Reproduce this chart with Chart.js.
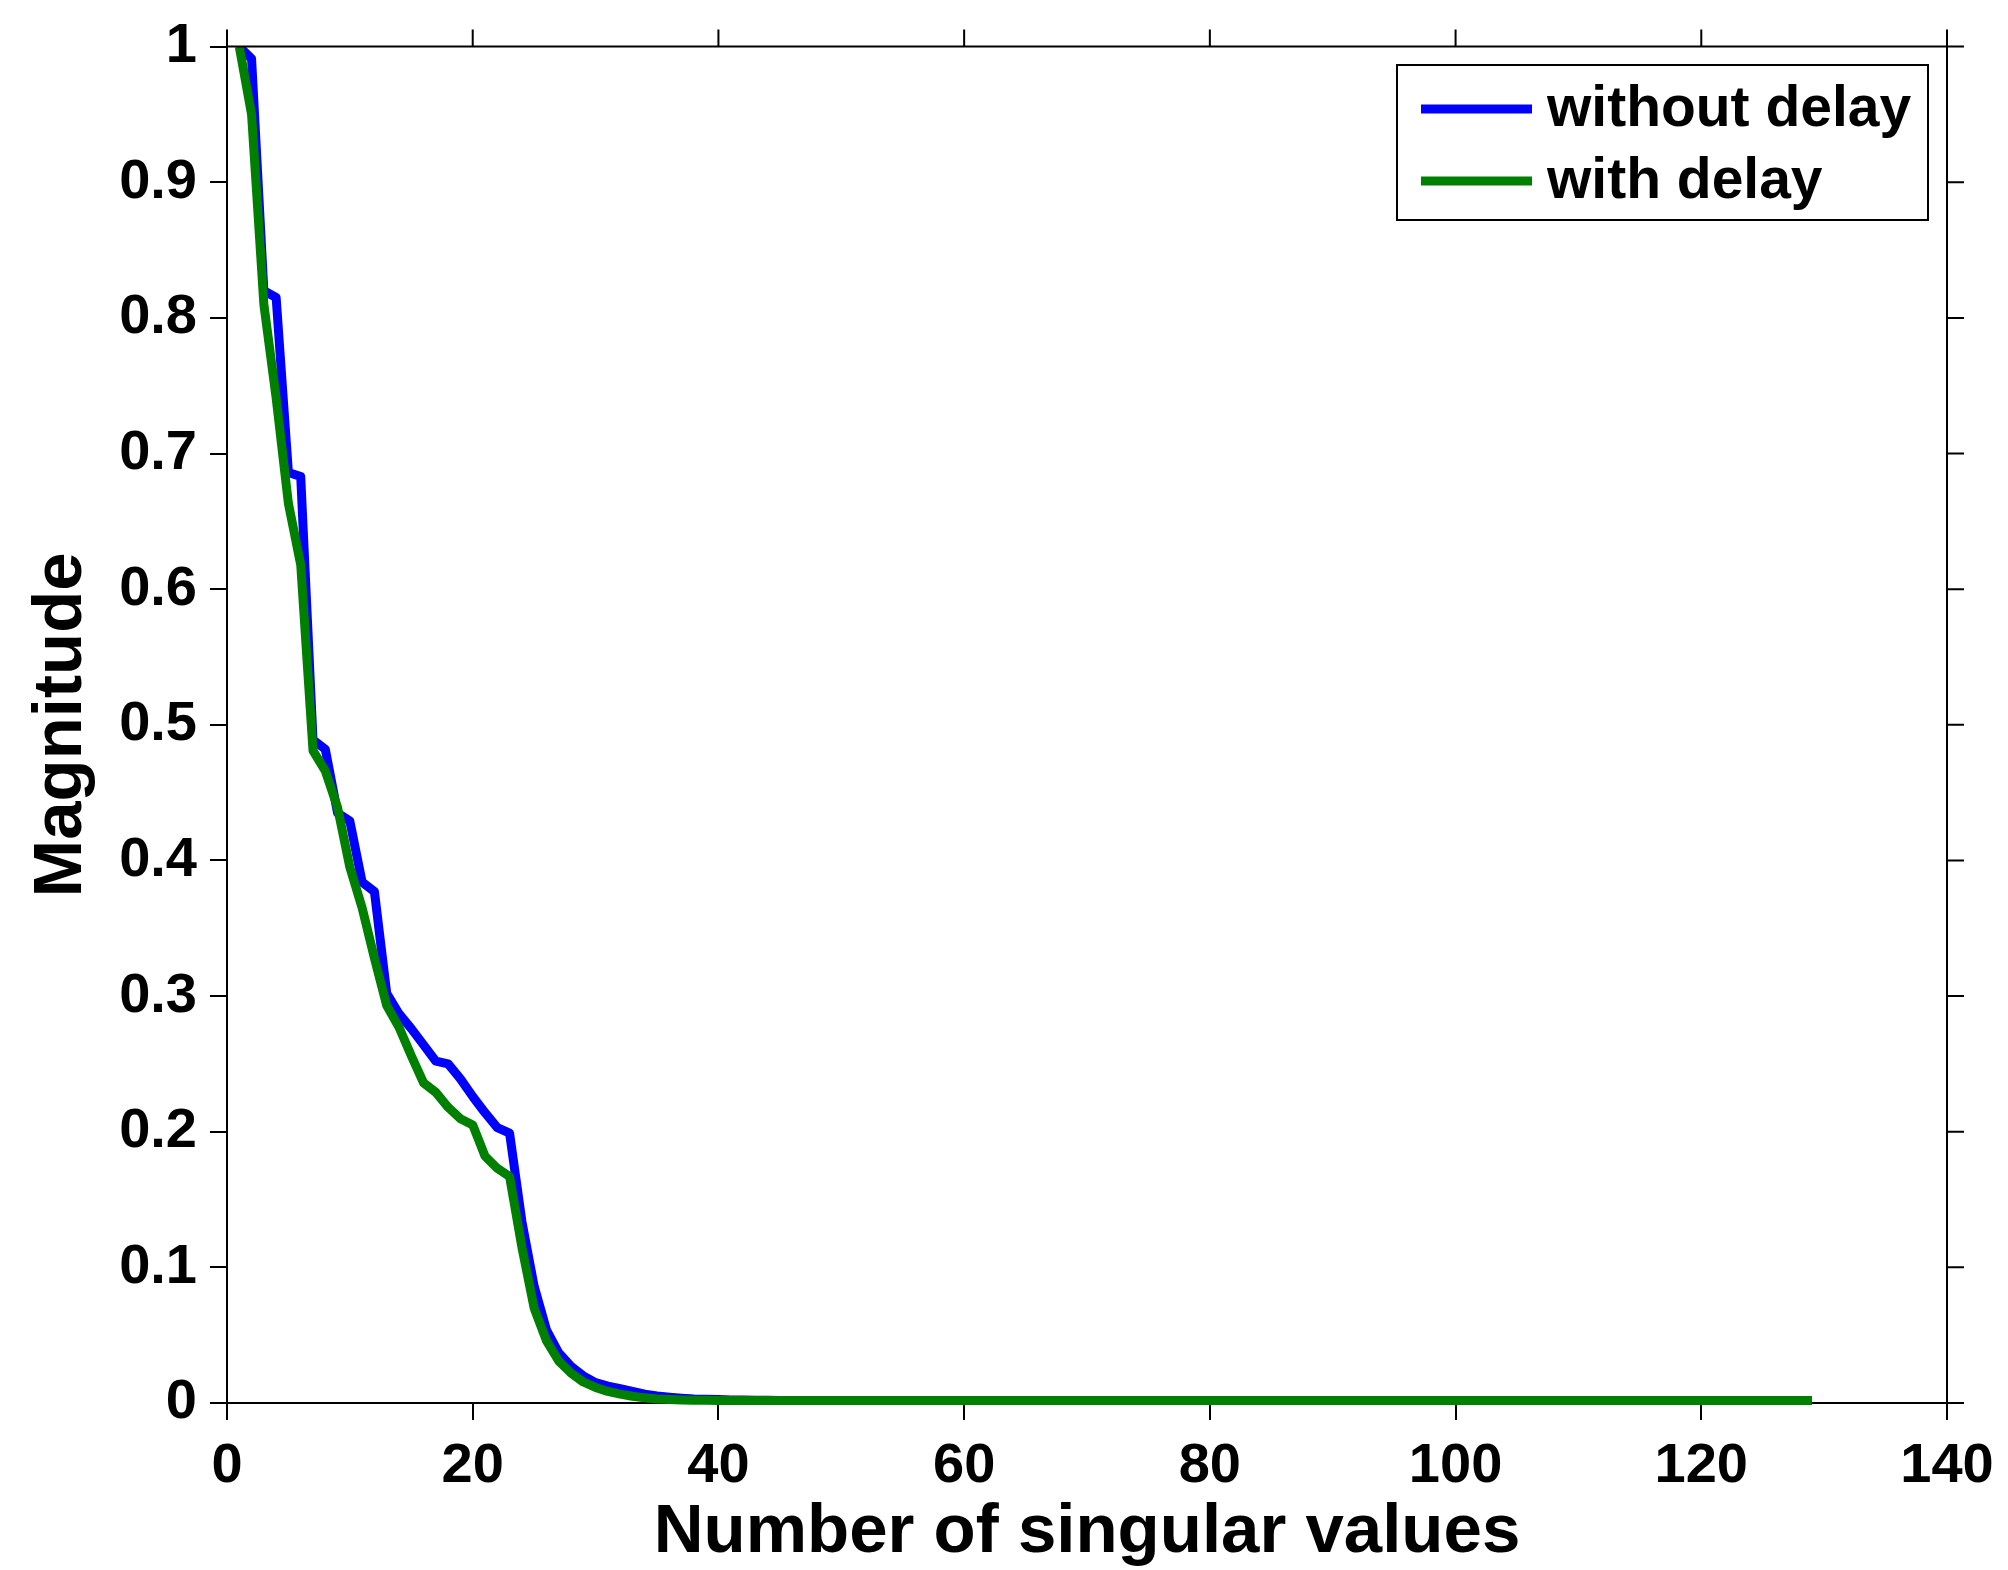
<!DOCTYPE html>
<html>
<head>
<meta charset="utf-8">
<title>Magnitude of singular values</title>
<script src="https://cdn.jsdelivr.net/npm/chart.js"></script>
<style>
  html, body { margin: 0; padding: 0; background: #fff; }
  #svdChart { display: block; }
</style>
</head>
<body>
<canvas id="svdChart" width="2008" height="1570"></canvas>
<script>
'use strict';

// normalised singular values, index 1..129
var withoutDelay = [
  1.0, 0.991, 0.820, 0.815, 0.686, 0.683, 0.489, 0.482, 0.435, 0.429,
  0.384, 0.377, 0.302, 0.287, 0.276, 0.264, 0.252, 0.250, 0.239, 0.226,
  0.214, 0.203, 0.199, 0.134, 0.086, 0.054, 0.037, 0.027, 0.020, 0.015,
  0.0125, 0.0105, 0.0085, 0.0065, 0.0052, 0.0043, 0.0036, 0.0030, 0.0027, 0.0025,
  0.0023, 0.0022, 0.0021, 0.0020, 0.0019,
  0.0018, 0.0018, 0.0018, 0.0018, 0.0018, 0.0018, 0.0018, 0.0018, 0.0018, 0.0018, 0.0018, 0.0018,
  0.0018, 0.0018, 0.0018, 0.0018, 0.0018, 0.0018, 0.0018, 0.0018, 0.0018, 0.0018, 0.0018, 0.0018,
  0.0018, 0.0018, 0.0018, 0.0018, 0.0018, 0.0018, 0.0018, 0.0018, 0.0018, 0.0018, 0.0018, 0.0018,
  0.0018, 0.0018, 0.0018, 0.0018, 0.0018, 0.0018, 0.0018, 0.0018, 0.0018, 0.0018, 0.0018, 0.0018,
  0.0018, 0.0018, 0.0018, 0.0018, 0.0018, 0.0018, 0.0018, 0.0018, 0.0018, 0.0018, 0.0018, 0.0018,
  0.0018, 0.0018, 0.0018, 0.0018, 0.0018, 0.0018, 0.0018, 0.0018, 0.0018, 0.0018, 0.0018, 0.0018,
  0.0018, 0.0018, 0.0018, 0.0018, 0.0018, 0.0018, 0.0018, 0.0018, 0.0018, 0.0018, 0.0018, 0.0018
];

var withDelay = [
  1.0, 0.950, 0.810, 0.741, 0.663, 0.618, 0.481, 0.466, 0.439, 0.395,
  0.365, 0.328, 0.293, 0.277, 0.256, 0.236, 0.229, 0.218, 0.2095, 0.205,
  0.182, 0.173, 0.167, 0.115, 0.070, 0.046, 0.031, 0.022, 0.0155, 0.0115,
  0.0085, 0.0065, 0.0050, 0.0038, 0.0030, 0.0026, 0.0023, 0.0021, 0.0020, 0.0019,
  0.0018, 0.0018, 0.0018, 0.0018, 0.0018, 0.0018, 0.0018, 0.0018, 0.0018, 0.0018, 0.0018, 0.0018,
  0.0018, 0.0018, 0.0018, 0.0018, 0.0018, 0.0018, 0.0018, 0.0018, 0.0018, 0.0018, 0.0018, 0.0018,
  0.0018, 0.0018, 0.0018, 0.0018, 0.0018, 0.0018, 0.0018, 0.0018, 0.0018, 0.0018, 0.0018, 0.0018,
  0.0018, 0.0018, 0.0018, 0.0018, 0.0018, 0.0018, 0.0018, 0.0018, 0.0018, 0.0018, 0.0018, 0.0018,
  0.0018, 0.0018, 0.0018, 0.0018, 0.0018, 0.0018, 0.0018, 0.0018, 0.0018, 0.0018, 0.0018, 0.0018,
  0.0018, 0.0018, 0.0018, 0.0018, 0.0018, 0.0018, 0.0018, 0.0018, 0.0018, 0.0018, 0.0018, 0.0018,
  0.0018, 0.0018, 0.0018, 0.0018, 0.0018, 0.0018, 0.0018, 0.0018, 0.0018, 0.0018, 0.0018, 0.0018,
  0.0018, 0.0018, 0.0018, 0.0018, 0.0018
];

var seriesLabels = ['without delay', 'with delay'];
var seriesColors = ['#0000ff', '#008000'];
var xTickLabels = ['0', '20', '40', '60', '80', '100', '120', '140'];
var yTickLabels = ['0', '0.1', '0.2', '0.3', '0.4', '0.5', '0.6', '0.7', '0.8', '0.9', '1'];

var FONT = '"Liberation Sans", Arial, Helvetica, sans-serif';
var TICK = 17;
var LINE_W = 9;

// index i -> point (i+1, value)
function toPoints(values) {
  return values.map(function (v, i) { return { x: i + 1, y: v }; });
}

// box on the top / right side plus a framed legend, like the matlab figure
var frameAndLegend = {
  id: 'frameAndLegend',
  afterDraw: function (chart) {
    var ctx = chart.ctx;
    var area = chart.chartArea;
    var xs = chart.scales.x;
    var ys = chart.scales.y;

    ctx.save();
    ctx.strokeStyle = '#000';
    ctx.lineWidth = 2;
    ctx.beginPath();
    ctx.moveTo(area.left, area.top);
    ctx.lineTo(area.right, area.top);
    ctx.lineTo(area.right, area.bottom);
    xs.ticks.forEach(function (t) {
      var px = xs.getPixelForValue(t.value);
      ctx.moveTo(px, area.top);
      ctx.lineTo(px, area.top - TICK);
    });
    ys.ticks.forEach(function (t) {
      var py = ys.getPixelForValue(t.value);
      ctx.moveTo(area.right, py);
      ctx.lineTo(area.right + TICK, py);
    });
    ctx.stroke();

    // legend box
    var boxLeft = 1397, boxTop = 65, boxW = 531, boxH = 155;
    ctx.fillStyle = '#fff';
    ctx.fillRect(boxLeft, boxTop, boxW, boxH);
    ctx.strokeRect(boxLeft, boxTop, boxW, boxH);

    ctx.font = 'bold 57px ' + FONT;
    ctx.textAlign = 'left';
    ctx.textBaseline = 'middle';
    chart.data.datasets.forEach(function (ds, i) {
      var rowY = boxTop + 44 + i * 72;
      ctx.strokeStyle = ds.borderColor;
      ctx.lineWidth = ds.borderWidth;
      ctx.lineCap = 'butt';
      ctx.beginPath();
      ctx.moveTo(boxLeft + 24, rowY);
      ctx.lineTo(boxLeft + 135, rowY);
      ctx.stroke();
      ctx.fillStyle = '#000';
      ctx.fillText(ds.label, boxLeft + 150, rowY + 1);
    });
    ctx.restore();
  }
};

var ctx = document.getElementById('svdChart').getContext('2d');

var svdChart = new Chart(ctx, {
  type: 'line',
  data: {
    datasets: [
      {
        label: seriesLabels[0],
        data: toPoints(withoutDelay),
        borderColor: seriesColors[0],
        backgroundColor: seriesColors[0],
        borderWidth: LINE_W,
        borderJoinStyle: 'round',
        borderCapStyle: 'butt',
        pointRadius: 0,
        tension: 0,
        fill: false,
        order: 1,
        clip: { left: 0, top: 0, right: 0, bottom: 5 }
      },
      {
        label: seriesLabels[1],
        data: toPoints(withDelay),
        borderColor: seriesColors[1],
        backgroundColor: seriesColors[1],
        borderWidth: LINE_W,
        borderJoinStyle: 'round',
        borderCapStyle: 'butt',
        pointRadius: 0,
        tension: 0,
        fill: false,
        order: 0,
        clip: { left: 0, top: 0, right: 0, bottom: 5 }
      }
    ]
  },
  options: {
    responsive: false,
    animation: false,
    events: [],
    layout: { padding: { top: 45, right: 61, left: 0, bottom: 0 } },
    plugins: {
      legend: { display: false },
      tooltip: { enabled: false }
    },
    scales: {
      x: {
        type: 'linear',
        min: 0,
        max: 140,
        afterFit: function (scale) { scale.height = 167; },
        grid: { drawOnChartArea: false, drawTicks: true, tickLength: TICK, color: '#000', lineWidth: 2 },
        border: { display: true, color: '#000', width: 2 },
        ticks: {
          stepSize: 20,
          padding: 13,
          color: '#000',
          maxRotation: 0,
          font: { family: FONT, size: 56, weight: 'bold' },
          callback: function (v, i) { return xTickLabels[i]; }
        },
        title: {
          display: true,
          text: 'Number of singular values',
          color: '#000',
          font: { family: FONT, size: 69, weight: 'bold', lineHeight: 1.0 },
          padding: { top: 0, bottom: 3 }
        }
      },
      y: {
        type: 'linear',
        min: 0,
        max: 1,
        afterFit: function (scale) { scale.width = 227; },
        grid: { drawOnChartArea: false, drawTicks: true, tickLength: TICK, color: '#000', lineWidth: 2 },
        border: { display: true, color: '#000', width: 2 },
        ticks: {
          stepSize: 0.1,
          padding: 13,
          color: '#000',
          font: { family: FONT, size: 56, weight: 'bold' },
          callback: function (v, i) { return yTickLabels[i]; }
        },
        title: {
          display: true,
          text: 'Magnitude',
          color: '#000',
          font: { family: FONT, size: 69, weight: 'bold', lineHeight: 1.2 },
          padding: { top: 21, bottom: 0 }
        }
      }
    }
  },
  plugins: [frameAndLegend]
});
</script>
</body>
</html>
